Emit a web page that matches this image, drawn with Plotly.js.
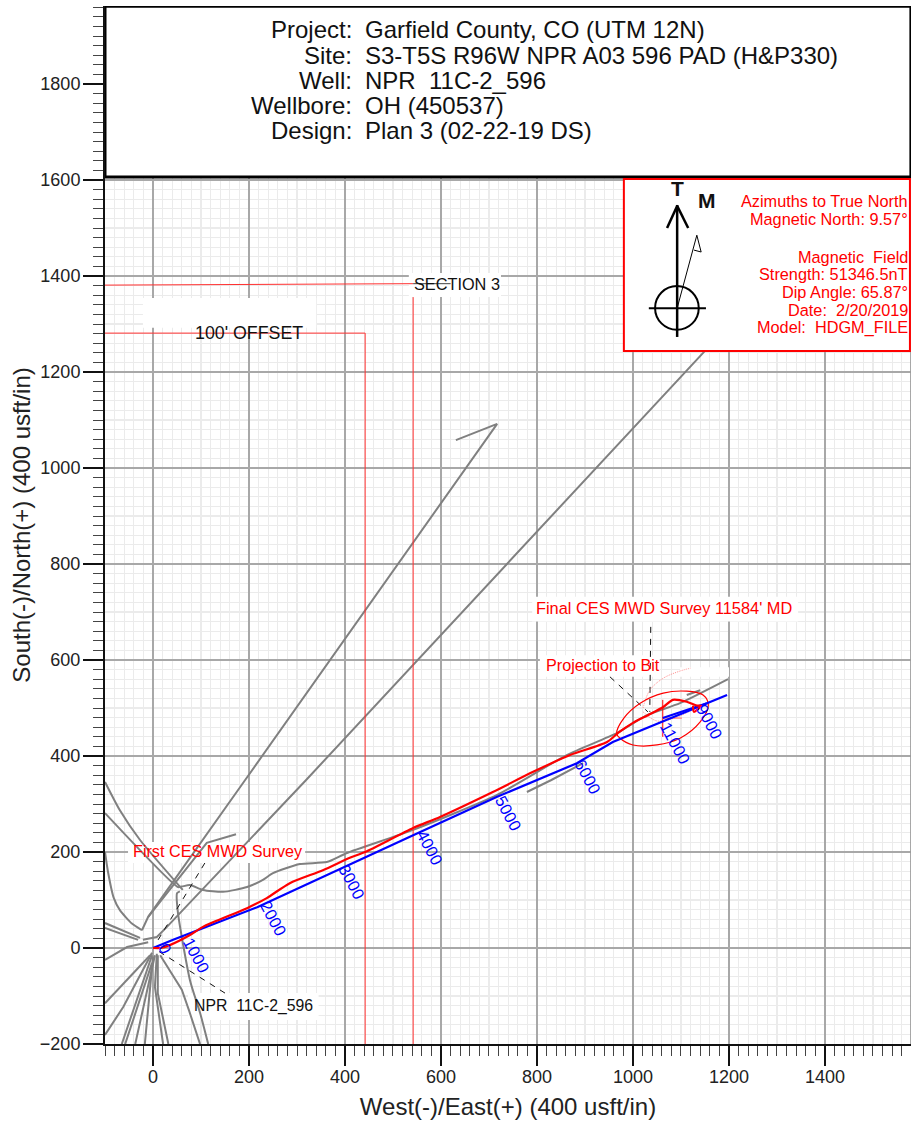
<!DOCTYPE html>
<html><head><meta charset="utf-8">
<script src="https://cdn.plot.ly/plotly-3.0.1.min.js"></script>
<style>html,body{margin:0;padding:0;background:#fff}</style></head>
<body><div id="chart" style="width:921px;height:1125px"></div>
<script>
// Offset wells (West/East, South/North)
const wellLong1X=[-23,-10,192,717,631]; const wellLong1Y=[37,65,350,1092,1058];
const wellLong2X=[-21,8,29,319,1150]; const wellLong2Y=[17,23,44,350,1244];
const wellHookX=[-10,112,173]; const wellHookY=[65,219,237];
const wellBX=[-100,52,60,77,104,146,196,229,250,306,362,404,542,717,862,967,1029,1098,1198];
const wellBY=[281,127,128,131,121,117,127,142,156,175,179,198,246,319,402,448,485,510,560];
const wellCX=[-100,-69,-27,62]; const wellCY=[346,287,225,121];
const wellDX=[-100,-94,-82,-69,-44,-23]; const wellDY=[200,160,105,79,51,37];
const wellE1X=[-100,-27]; const wellE1Y=[52,21];
const wellE2X=[-100,-31]; const wellE2Y=[42,17];
const wellFX=[-100,-54,-10]; const wellFY=[-25,2,12];
const wellGX=[-100,-6]; const wellGY=[-115,-15];
const wellHX=[-100,-62,-2]; const wellHY=[-181,-123,-10];
const wellIX=[-65,-2]; const wellIY=[-200,-15];
const wellJX=[-58,-2]; const wellJY=[-200,-31];
const wellKX=[-37,4]; const wellKY=[-200,-15];
const wellLX=[-17,0]; const wellLY=[-200,-18];
const wellMX=[21,4,8]; const wellMY=[-200,-81,-12];
const wellNX=[32,10,10]; const wellNY=[-200,-94,-15];
const wellOX=[15,60,75,98]; const wellOY=[-15,-87,-130,-200];
const wellPX=[56,50,52,77,98,115]; const wellPY=[118,114,73,-67,-135,-200];
const wellShortX=[779,830,896]; const wellShortY=[325,350,385];
const wellShort2X=[1112,1140]; const wellShort2Y=[527,537];
const straightWells=[[wellLong1X,wellLong1Y],[wellLong2X,wellLong2Y],[wellHookX,wellHookY],[wellE1X,wellE1Y],[wellE2X,wellE2Y],[wellFX,wellFY],[wellGX,wellGY],[wellHX,wellHY],[wellIX,wellIY],[wellJX,wellJY],[wellKX,wellKY],[wellLX,wellLY],[wellMX,wellMY],[wellNX,wellNY],[wellOX,wellOY],[wellShortX,wellShortY],[wellShort2X,wellShort2Y]];
const curvedWells=[[wellBX,wellBY],[wellCX,wellCY],[wellDX,wellDY],[wellPX,wellPY]];

// Subject well
const planX=[0,42,217,442,542,717,883,958,1154,1196]; const planY=[0,17,85,190,235,315,385,429,510,527];
const plan2X=[1062,1154]; const plan2Y=[479,510];
const actualX=[0,15,35,77,104,196,237,285,354,410,442,542,598,708,792,869,946,969,1000,1031,1063,1083,1112,1133,1142,1127,1125];
const actualY=[0,0,6,27,44,83,104,135,162,188,200,250,273,325,367,402,429,448,469,485,502,517,513,505,505,492,505];
const ellipseX=[966,981,1015,1063,1112,1146,1157,1140,1098,1050,1000,973,966];
const ellipseY=[447,479,510,531,535,527,506,471,437,423,423,437,447];
const faintUpX=[1021,1035,1063,1098,1120]; const faintUpY=[500,537,562,577,583];
const faintLowX=[1021,1050,1092,1130]; const faintLowY=[492,473,481,500];
const crossVX=[1062,1062]; const crossVY=[517,440];
const crossHX=[1062,1102]; const crossHY=[479,479];

// Lease lines
const section3X=[-100,542]; const section3Y=[1381,1384];
const section3VX=[542,542]; const section3VY=[1356,-200];
const section3TailX=[542,620]; const section3TailY=[1384,1384];
const offsetX=[-100,442,442]; const offsetY=[1281,1281,-200];

// Leader lines
const leaders=[[[108,4],[177,6]],[[150,4],[-94,-2]],[[1037,1035],[669,492]],[[952,1031],[565,492]]];

// Depth labels along the plan
const depthLabels=['0','1000','2000','3000','4000','5000','6000','9000','11000'];
const depthX=[25,90,250,414,577,740,906,1160,1088];
const depthY=[0,-15,62,137,208,281,356,471,427];

// Header text
const headerKeys=['Project:','Site:','Well:','Wellbore:','Design:'];
const headerVals=['Garfield County, CO (UTM 12N)','S3-T5S R96W NPR A03 596 PAD (H&P330)','NPR\u00a0\u00a011C-2_596','OH (450537)','Plan 3 (02-22-19 DS)'];
const headerY=[1914,1860,1808,1756,1704];

// North reference text
const northLines=['Azimuths to True North','Magnetic North: 9.57°','Magnetic\u00a0\u00a0Field','Strength: 51346.5nT','Dip Angle: 65.87°','Date:\u00a0\u00a02/20/2019','Model:\u00a0\u00a0HDGM_FILE'];
const northY=[1556,1519,1440,1404,1367,1329,1292];

const traces=[];
const line=(x,y,color,width,extra)=>traces.push(Object.assign({x,y,type:'scatter',mode:'lines',hoverinfo:'skip',line:Object.assign({color,width},extra||{})}));
straightWells.forEach(w=>line(w[0],w[1],'#808080',2));
curvedWells.forEach(w=>line(w[0],w[1],'#808080',2,{shape:'spline',smoothing:0.6}));
line(section3X,section3Y,'#ff3030',1);
line(section3VX,section3VY,'#ff3030',1);
line(section3TailX,section3TailY,'#444444',1);
line(offsetX,offsetY,'#ff3030',1);
leaders.forEach(l=>line(l[0],l[1],'#111111',1,{dash:'6px,6px'}));
line(faintUpX,faintUpY,'#ff9090',1,{dash:'1px,1px',shape:'spline'});
line(faintLowX,faintLowY,'#ff9090',1,{dash:'1px,1px',shape:'spline'});
line(ellipseX,ellipseY,'#ff0000',1.2,{shape:'spline'});
line(crossVX,crossVY,'#ff0000',1);
line(crossHX,crossHY,'#ff6060',1);
line(planX,planY,'#0000ff',2.2);
line(plan2X,plan2Y,'#0000ff',2.2);
line(actualX,actualY,'#ff0000',2.2,{shape:'spline',smoothing:0.7});

const rect=(x0,x1,y0,y1,fill,lc,lw,layer)=>({type:'rect',xref:'x',yref:'y',x0,x1,y0,y1,fillcolor:fill,line:{color:lc,width:lw},layer});
const seg=(x0,y0,x1,y1,w)=>({type:'line',xref:'x',yref:'y',x0,y0,x1,y1,line:{color:'#000',width:w},layer:'above'});
const shapes=[
 // label masks over the grid
 rect(-21,340,1292,1354,'#fff','#fff',0,'between'),
 rect(533,725,1356,1406,'#fff','#fff',0,'between'),
 rect(-52,317,177,221,'#fff','#fff',0,'between'),
 rect(73,345,-150,-94,'#fff','#fff',0,'between'),
 rect(790,1344,680,732,'#fff','#fff',0,'between'),
 rect(806,1056,565,610,'#fff','#fff',0,'between'),
 rect(1098,1200,565,585,'#fff','#fff',0,'between'),
 // plot frame on the right
 {type:'line',xref:'x',yref:'y',x0:1579,x1:1579,y0:-200,y1:1600,line:{color:'#999',width:1.5},layer:'between'},
 // header and north boxes
 rect(-100,1579,1606,1962,'#fff','#000',3,'above'),
 rect(981,1577,1244,1602,'#fff','#ff0000',2,'above'),
 // compass
 seg(1092,1548,1092,1273,2.5),
 seg(1071,1500,1092,1546,2.5),
 seg(1115,1500,1092,1546,2.5),
 seg(1033,1333,1152,1333,2),
 {type:'circle',xref:'x',yref:'y',x0:1046,x1:1137,y0:1288,y1:1379,line:{color:'#000',width:2},layer:'above'},
 seg(1092,1333,1133,1485,1),
 seg(1133,1485,1142,1450,1),
 seg(1142,1450,1127,1454,1)
];

const ann=(text,x,y,color,size,xanchor,extra)=>Object.assign({text,x,y,xref:'x',yref:'y',showarrow:false,xanchor:xanchor||'center',yanchor:'middle',font:{family:'Liberation Sans, Arial, sans-serif',size,color}},extra||{});
const annotations=[];
headerKeys.forEach((t,i)=>annotations.push(ann(t,419,headerY[i],'#111',24,'right')));
headerVals.forEach((t,i)=>annotations.push(ann(t,438,headerY[i],'#111',24,'left')));
northLines.forEach((t,i)=>annotations.push(ann(t,1577,northY[i],'#ff0000',16.3,'right')));
annotations.push(ann('<b>T</b>',1092,1582,'#111',21));
annotations.push(ann('<b>M</b>',1154,1558,'#111',21));
depthLabels.forEach((t,i)=>annotations.push(ann(t,depthX[i],depthY[i],'#0000ff',16.5,'center',{textangle:62})));
annotations.push(ann('SECTION 3',633,1383,'#111',16.3));
annotations.push(ann("100' OFFSET",200,1281,'#111',17.8));
annotations.push(ann('First CES MWD Survey',135,202,'#ff0000',16.2));
annotations.push(ann('NPR\u00a0\u00a011C-2_596',210,-121,'#111',15.8));
annotations.push(ann("Final CES MWD Survey 11584' MD",1065,708,'#ff0000',16.35));
annotations.push(ann('Projection to Bit',938,589,'#ff0000',16.2));

const axis=(range,titleText,standoff,labelShift)=>({
  range,tick0:0,dtick:200,ticks:'outside',ticklen:20,tickwidth:1.5,tickcolor:'#111',
  showgrid:true,gridcolor:'#a8a8a8',gridwidth:1.2,zeroline:false,
  showline:true,linecolor:'#111',linewidth:2,ticklabelstandoff:labelShift,
  tickfont:{family:'Liberation Sans, Arial, sans-serif',size:18,color:'#222'},
  title:{text:titleText,standoff,font:{family:'Liberation Sans, Arial, sans-serif',size:24,color:'#222'}},
  minor:{tick0:0,dtick:20,ticks:'outside',ticklen:10,tickwidth:1,tickcolor:'#444',showgrid:true,gridcolor:'#ebebeb',gridwidth:1.2},
  automargin:false,fixedrange:true
});
const layout={
  width:921,height:1125,margin:{l:105,r:10,t:6,b:81,pad:0},
  paper_bgcolor:'#fff',plot_bgcolor:'#fff',showlegend:false,
  xaxis:axis([-100,1579.2],'West(-)/East(+) (400 usft/in)',13,-5),
  yaxis:axis([-200,1962.5],'South(-)/North(+) (400 usft/in)',2,-1),
  shapes,annotations
};
Plotly.newPlot('chart',traces,layout,{displayModeBar:false,staticPlot:true});
</script></body></html>
